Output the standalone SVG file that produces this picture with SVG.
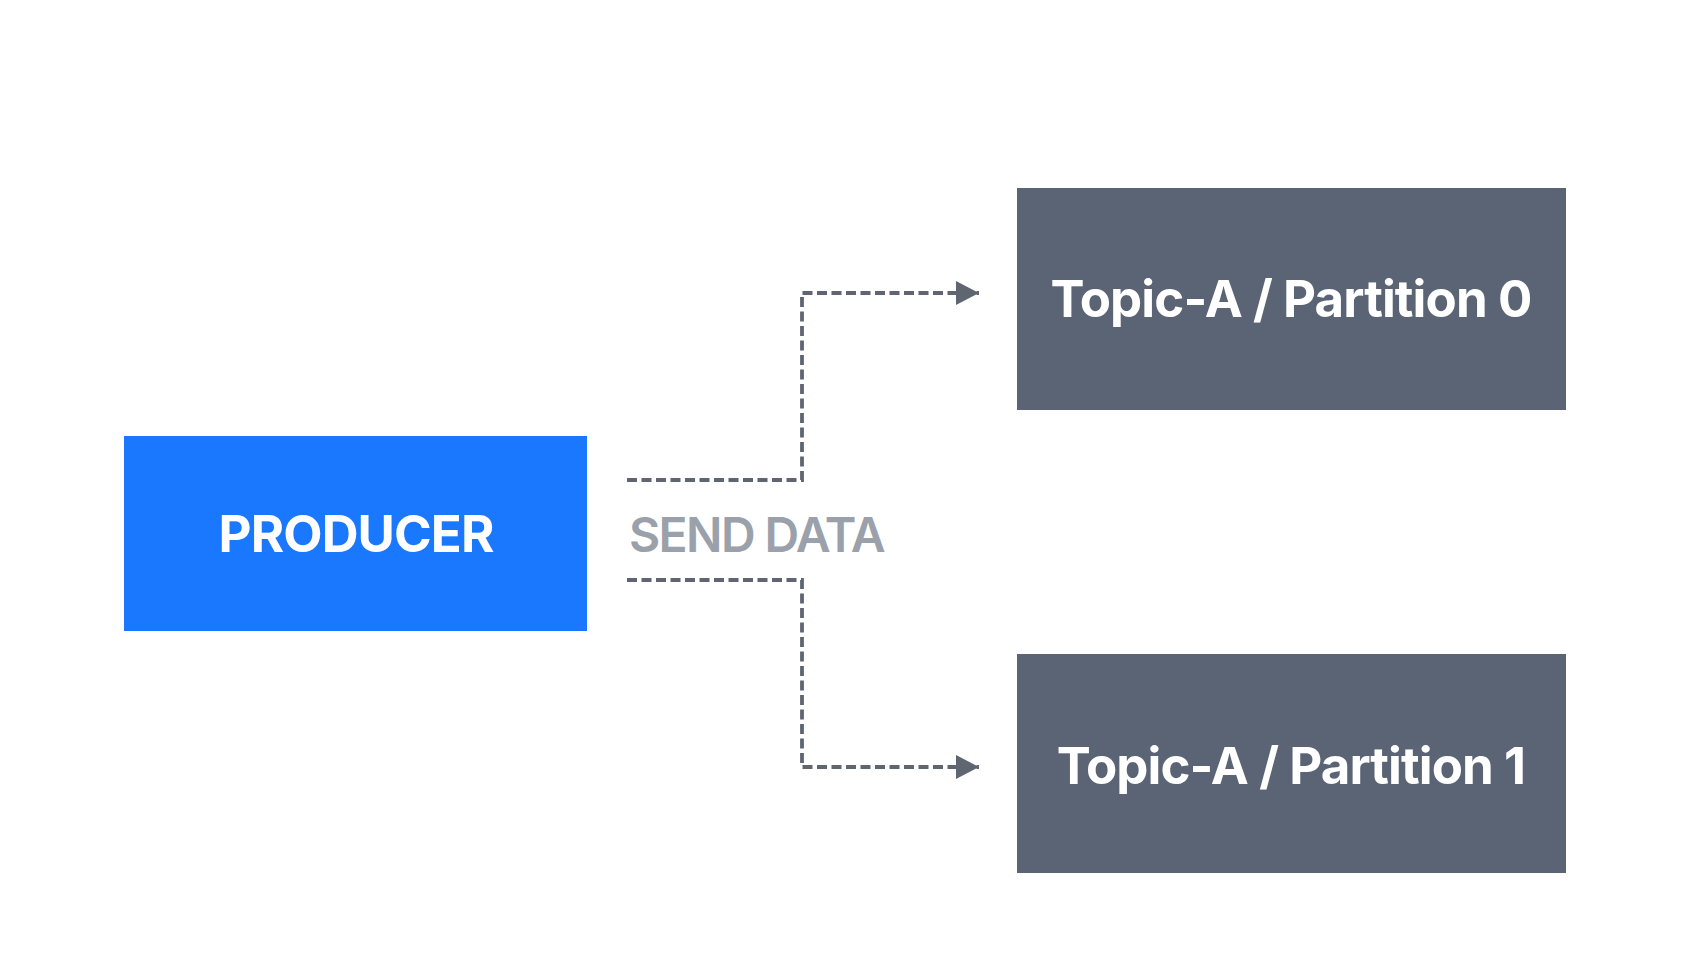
<svg xmlns="http://www.w3.org/2000/svg" width="1700" height="978" viewBox="0 0 1700 978">
<style>
.lbl{font-family:Inter,"Liberation Sans",sans-serif;font-weight:700;fill:#ffffff;text-anchor:middle;font-size:51px;letter-spacing:-0.9px}
.conn{fill:none;stroke:#5f6672;stroke-width:3.8;stroke-dasharray:10 4.5}
.send{font-family:Inter,"Liberation Sans",sans-serif;font-weight:600;fill:#9aa1ab;font-size:48px;letter-spacing:-1.6px}
</style>
<defs>
<marker id="arr" markerUnits="userSpaceOnUse" markerWidth="28" markerHeight="28" viewBox="0 0 28 28" refX="26" refY="14" orient="auto">
<path d="M3,2 L26,14 L3,26 Z" fill="#5f6672"/>
</marker>
</defs>
<rect width="1700" height="978" fill="#ffffff"/>
<g id="producer">
<rect x="124" y="436" width="463" height="195" fill="#1a78ff"/>
<text class="lbl" x="356" y="552">PRODUCER</text>
</g>
<g id="partition0">
<rect x="1017" y="188" width="549" height="222" fill="#5a6475"/>
<text class="lbl" x="1291" y="317">Topic-A / Partition 0</text>
</g>
<g id="partition1">
<rect x="1017" y="654" width="549" height="219" fill="#5a6475"/>
<text class="lbl" x="1291" y="784">Topic-A / Partition 1</text>
</g>
<g id="connectors">
<path class="conn" d="M627,480 H802 V293 H979" marker-end="url(#arr)"/>
<path class="conn" d="M627,580 H802 V767 H979" marker-end="url(#arr)"/>
<text class="send" x="629" y="552">SEND DATA</text>
</g>
</svg>
